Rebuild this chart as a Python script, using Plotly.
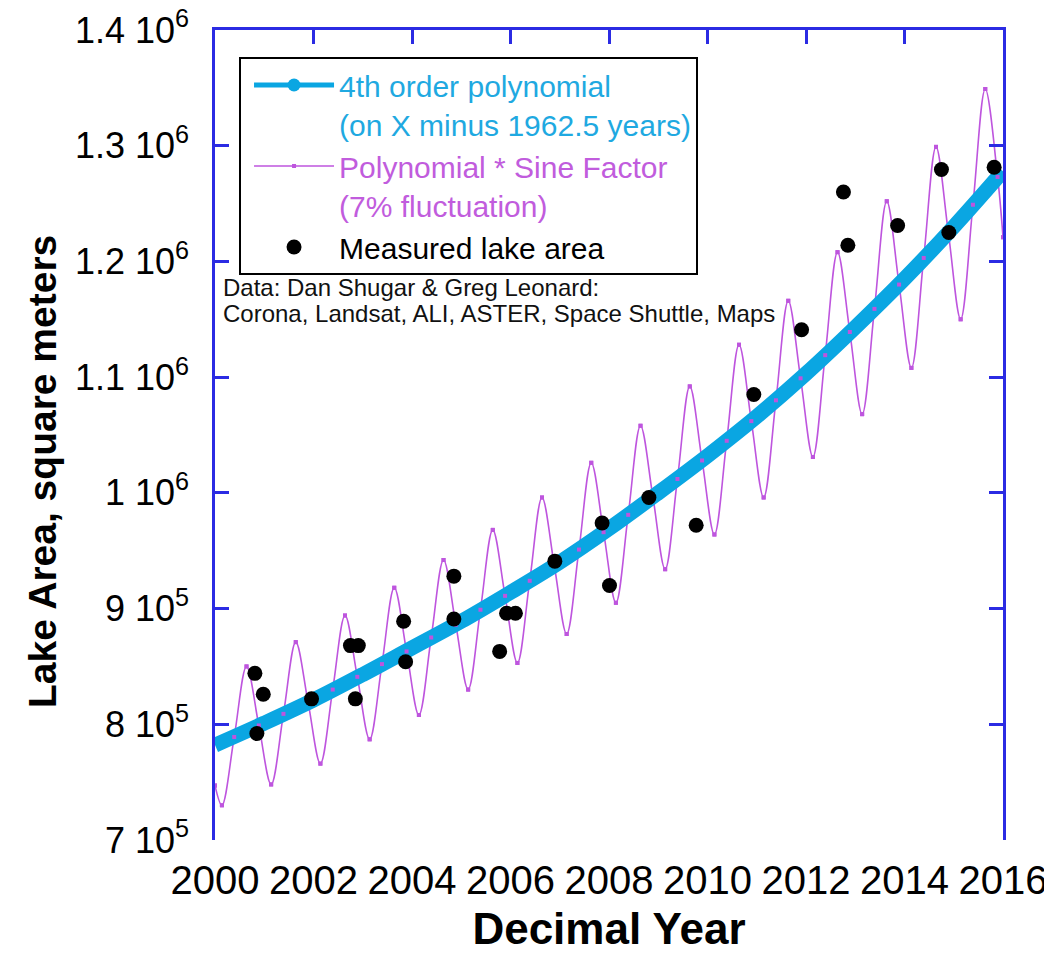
import plotly.graph_objects as go

# ---------------- data ----------------
poly_year = [2000, 2001, 2002, 2003, 2004, 2005, 2006, 2007, 2008,
             2009, 2010, 2011, 2012, 2013, 2014, 2015, 2016]
poly_area = [782000, 801000, 821000, 843000, 866000, 889000, 914000, 940000, 969000,
             1000000, 1032000, 1066000, 1103000, 1143000, 1185000, 1230000, 1278000]

# polynomial * sine factor: start, then trough / crossing / peak / crossing for each year, end
sine_year = [2000.00,
             2000.14, 2000.39, 2000.64, 2000.89,
             2001.14, 2001.39, 2001.64, 2001.89,
             2002.14, 2002.39, 2002.64, 2002.89,
             2003.14, 2003.39, 2003.64, 2003.89,
             2004.14, 2004.39, 2004.64, 2004.89,
             2005.14, 2005.39, 2005.64, 2005.89,
             2006.14, 2006.39, 2006.64, 2006.89,
             2007.14, 2007.39, 2007.64, 2007.89,
             2008.14, 2008.39, 2008.64, 2008.89,
             2009.14, 2009.39, 2009.64, 2009.89,
             2010.14, 2010.39, 2010.64, 2010.89,
             2011.14, 2011.39, 2011.64, 2011.89,
             2012.14, 2012.39, 2012.64, 2012.89,
             2013.14, 2013.39, 2013.64, 2013.89,
             2014.14, 2014.39, 2014.64, 2014.89,
             2015.14, 2015.39, 2015.64, 2015.89,
             2016.00]
sine_area = [747000,
             730000, 789000, 850000, 799000,
             748000, 809000, 871000, 819000,
             766000, 830000, 894000, 841000,
             787000, 852000, 918000, 863000,
             808000, 875000, 942000, 886000,
             830000, 899000, 968000, 911000,
             853000, 924000, 996000, 937000,
             878000, 951000, 1026000, 966000,
             905000, 981000, 1058000, 997000,
             934000, 1012000, 1092000, 1028000,
             964000, 1045000, 1128000, 1062000,
             996000, 1080000, 1166000, 1099000,
             1031000, 1119000, 1208000, 1139000,
             1068000, 1159000, 1252000, 1180000,
             1108000, 1203000, 1299000, 1225000,
             1150000, 1249000, 1349000, 1273000,
             1221000]

meas_year = [2000.81, 2000.98, 2000.85, 2001.96, 2002.75, 2002.91, 2002.85,
             2003.83, 2003.87, 2004.85, 2004.85, 2005.78, 2005.92, 2006.10,
             2006.90, 2007.86, 2008.01, 2008.81, 2009.77, 2010.94, 2011.91,
             2012.76, 2012.85, 2013.86, 2014.75, 2014.90, 2015.82]
meas_area = [844000, 826000, 792000, 822000, 868000, 868000, 822000,
             889000, 854000, 928000, 891000, 863000, 896000, 896000,
             941000, 974000, 920000, 996000, 972000, 1085000, 1141000,
             1260000, 1214000, 1231000, 1279500, 1225000, 1281400]

x_tickvals = [2000, 2002, 2004, 2006, 2008, 2010, 2012, 2014, 2016]
x_ticktext = ["2000", "2002", "2004", "2006", "2008", "2010", "2012", "2014", "2016"]
y_tickvals = [700000, 800000, 900000, 1000000, 1100000, 1200000, 1300000, 1400000]
y_ticktext = ["7 10<sup>5</sup>", "8 10<sup>5</sup>", "9 10<sup>5</sup>", "1 10<sup>6</sup>",
              "1.1 10<sup>6</sup>", "1.2 10<sup>6</sup>", "1.3 10<sup>6</sup>", "1.4 10<sup>6</sup>"]

name_poly = ('<span style="color:#1FA9E1">4th order polynomial<br>'
             '(on X minus 1962.5 years)</span>')
name_sine = ('<span style="color:#C15CDD">Polynomial * Sine Factor<br>'
             '(7% fluctuation)</span>')
name_meas = '<span style="color:#000000">Measured lake area</span>'
note_line1 = "Data: Dan Shugar &amp; Greg Leonard:"
note_line2 = "Corona, Landsat, ALI, ASTER, Space Shuttle, Maps"
x_title = "Decimal Year"
y_title = "Lake Area, square meters"

# ---------------- styles ----------------
BLUE = "#0AA6E2"
PURPLE = "#BE55DE"
FRAME = "#2B2BE3"
FONT = "Liberation Sans, Arial, Helvetica, sans-serif"

fig = go.Figure()

# legend proxy for the thick polynomial band
fig.add_trace(go.Scatter(x=[None], y=[None], mode="lines+markers", name=name_poly,
                         line=dict(color=BLUE, width=5),
                         marker=dict(color=BLUE, size=13, symbol="circle")))
# sine-modulated curve (line beneath the band)
fig.add_trace(go.Scatter(x=sine_year, y=sine_area, mode="lines+markers", name=name_sine,
                         line=dict(color=PURPLE, width=1.6, shape="spline", smoothing=1.0),
                         marker=dict(color=PURPLE, size=4, symbol="square")))
# polynomial band
fig.add_trace(go.Scatter(x=poly_year, y=poly_area, mode="lines", showlegend=False,
                         line=dict(color=BLUE, width=15, shape="spline")))
# sine sample dots on top of the band
fig.add_trace(go.Scatter(x=sine_year, y=sine_area, mode="markers", showlegend=False,
                         marker=dict(color=PURPLE, size=4, symbol="square")))
# measurements
fig.add_trace(go.Scatter(x=meas_year, y=meas_area, mode="markers", name=name_meas,
                         marker=dict(color="black", size=15, symbol="circle")))
# dummy on top axis so that it is drawn
fig.add_trace(go.Scatter(x=[None], y=[None], xaxis="x2", showlegend=False, hoverinfo="skip"))

# the page body adds an 8px margin, so the figure is 8px smaller on each axis
fig.update_layout(
    width=1044, height=945,
    margin=dict(l=207, r=49, t=22, b=113),
    paper_bgcolor="white", plot_bgcolor="white",
    font=dict(family=FONT, color="black"),
    showlegend=True,
    legend=dict(x=0.0305, y=0.9667, xanchor="left", yanchor="top",
                bgcolor="white", bordercolor="black", borderwidth=2,
                font=dict(family=FONT, size=30, color="black"),
                valign="top", itemwidth=80, indentation=8, tracegroupgap=0),
    xaxis=dict(range=[2000, 2016], tickmode="array", tickvals=x_tickvals, ticktext=x_ticktext,
               showline=False, ticks="", showgrid=False, zeroline=False, automargin=False,
               tickangle=0, ticklabeloverflow="allow",
               tickfont=dict(family=FONT, size=40, color="black"), ticklabelstandoff=13,
               title=dict(text=x_title, standoff=14,
                          font=dict(family=FONT, size=44, color="black", weight="bold"))),
    xaxis2=dict(range=[2000, 2016], overlaying="x", side="top", anchor="y",
                tickmode="array", tickvals=x_tickvals, showticklabels=False,
                showline=True, linecolor=FRAME, linewidth=2.5, automargin=False,
                ticks="inside", ticklen=14, tickwidth=2.5, tickcolor=FRAME,
                showgrid=False, zeroline=False),
    yaxis=dict(range=[700000, 1400000], tickmode="array", tickvals=y_tickvals, ticktext=y_ticktext,
               showline=True, linecolor=FRAME, linewidth=2.5, mirror="ticks", automargin=False,
               ticks="inside", ticklen=14, tickwidth=2.5, tickcolor=FRAME,
               showgrid=False, zeroline=False, ticklabeloverflow="allow",
               tickfont=dict(family=FONT, size=36, color="black"), ticklabelstandoff=16),
    annotations=[
        dict(xref="paper", yref="paper", x=-0.2195, y=0.4543, xanchor="center", yanchor="middle",
             textangle=-90, showarrow=False, text=y_title,
             font=dict(family=FONT, size=39, color="black", weight="bold")),
        dict(xref="paper", yref="paper", x=0.008, y=0.6827, xanchor="left", yanchor="middle",
             align="left", showarrow=False, text=note_line1,
             font=dict(family=FONT, size=24, color="#111111")),
        dict(xref="paper", yref="paper", x=0.008, y=0.6506, xanchor="left", yanchor="middle",
             align="left", showarrow=False, text=note_line2,
             font=dict(family=FONT, size=24, color="#111111")),
    ],
)

fig.write_html("out.html")
